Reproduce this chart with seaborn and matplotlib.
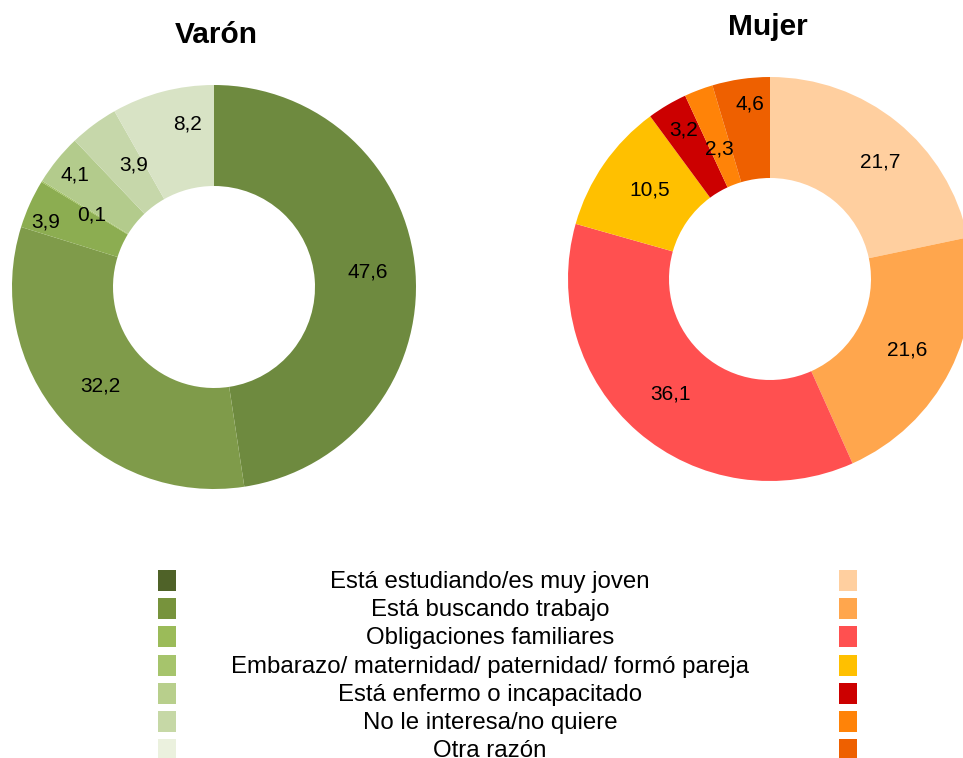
import matplotlib
matplotlib.use("Agg")
import matplotlib.pyplot as plt
from matplotlib.patches import Rectangle
import seaborn as sns

sns.set_theme(style="white")
plt.rcParams["font.family"] = ["Liberation Sans", "DejaVu Sans"]

# ---- data ----
categories = [
    "Está estudiando/es muy joven",
    "Está buscando trabajo",
    "Obligaciones familiares",
    "Embarazo/ maternidad/ paternidad/ formó pareja",
    "Está enfermo o incapacitado",
    "No le interesa/no quiere",
    "Otra razón",
]
varon_values = [47.6, 32.2, 3.9, 0.1, 4.1, 3.9, 8.2]
mujer_values = [21.7, 21.6, 36.1, 10.5, 3.2, 2.3, 4.6]

varon_pie_colors = ["#6e8a3f", "#7f9b4a", "#8cad51", "#9dbf5b", "#b3cb8c", "#c6d7aa", "#d8e3c5"]
varon_legend_colors = ["#4f6228", "#77933c", "#9bbb59", "#a6c46c", "#b8cf8c", "#c6d8a6", "#ebf1de"]
mujer_colors = ["#ffcf9f", "#ffa64d", "#ff5050", "#ffc000", "#cc0000", "#ff8308", "#ee6000"]

# label nudges in pixels (dx, dy with y downward)
varon_nudges = [(3, -4), (1, 0), (-30, -3), (7, 7), (-21, -17), (10, 0), (12, -16)]
mujer_nudges = [(15, 1), (2, 2), (0, 0), (4, -3), (-9, -19), (3, 12), (2, -25)]

W, H = 963, 758
fig = plt.figure(figsize=(W / 100, H / 100), dpi=100)
R_PX = 202.0


def donut(values, colors, nudges, left_px, top_px, title, title_xy):
    ax = fig.add_axes([left_px / W, (H - top_px - 2 * R_PX) / H, 2 * R_PX / W, 2 * R_PX / H])
    it = iter(values)
    wedges, texts, autotexts = ax.pie(
        values, colors=colors, startangle=90, counterclock=False, radius=1.0,
        wedgeprops=dict(width=0.5, linewidth=0),
        autopct=lambda p: f"{next(it):.1f}".replace(".", ","),
        pctdistance=0.75, textprops=dict(fontsize=15, color="black"),
    )
    for t, (dx, dy) in zip(autotexts, nudges):
        x, y = t.get_position()
        t.set_position((x + dx / R_PX, y - dy / R_PX))
    ax.set_xlim(-1, 1)
    ax.set_ylim(-1, 1)
    ax.set_aspect("auto")
    ax.axis("off")
    fig.text(title_xy[0] / W, 1 - title_xy[1] / H, title, ha="center", va="center",
             fontsize=21.5, fontweight="bold", color="black")
    return ax


donut(varon_values, varon_pie_colors, varon_nudges, 12, 85, "Varón", (216, 35))
donut(mujer_values, mujer_colors, mujer_nudges, 568, 77, "Mujer", (768, 27))

# ---- legend (pixel coordinate overlay) ----
lax = fig.add_axes([0, 0, 1, 1], zorder=-1)
lax.set_xlim(0, W)
lax.set_ylim(H, 0)
lax.axis("off")
row_y0, row_step = 580.5, 28.2
for i, cat in enumerate(categories):
    yc = row_y0 + i * row_step
    lax.add_patch(Rectangle((158, yc - 10.5), 18, 21, color=varon_legend_colors[i], lw=0))
    lax.add_patch(Rectangle((839, yc - 10.5), 18, 21, color=mujer_colors[i], lw=0))
    lax.text(490, yc + 1.5, cat, ha="center", va="center", fontsize=17.3, color="black")

fig.savefig("out.png", dpi=100)
